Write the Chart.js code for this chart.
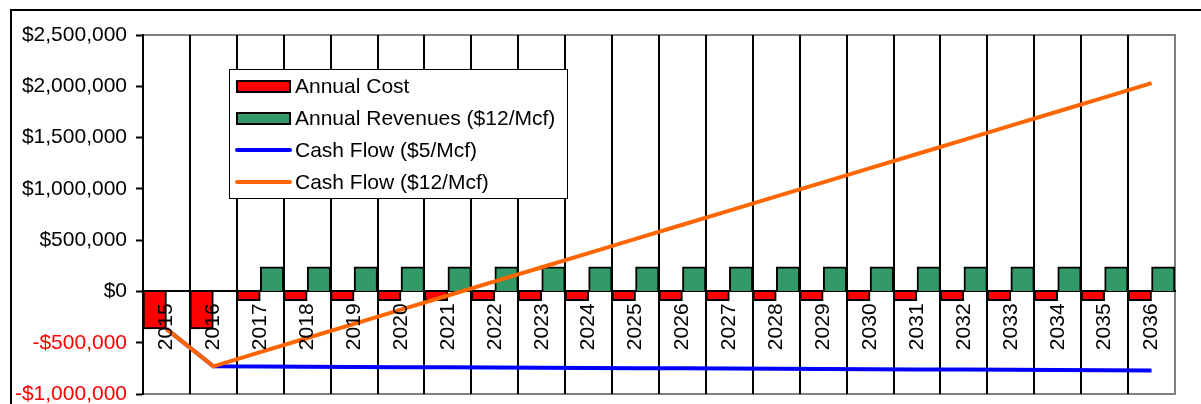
<!DOCTYPE html>
<html>
<head>
<meta charset="utf-8">
<script src="https://cdn.jsdelivr.net/npm/chart.js@4.4.1/dist/chart.umd.min.js"></script>
<style>
    html, body { margin: 0; padding: 0; background: #fff; }
    #wrap { position: relative; width: 1201px; height: 404px; }
</style>
</head>
<body>
<div id="wrap"><canvas id="chart"></canvas></div>
<script>
const years = ['2015', '2016', '2017', '2018', '2019', '2020', '2021', '2022', '2023', '2024', '2025',
    '2026', '2027', '2028', '2029', '2030', '2031', '2032', '2033', '2034', '2035', '2036'];

const annualCost = [-365000, -365000, -90000, -90000, -90000, -90000, -90000, -90000, -90000, -90000, -90000,
    -90000, -90000, -90000, -90000, -90000, -90000, -90000, -90000, -90000, -90000, -90000];

const annualRevenues = [0, 0, 240000, 240000, 240000, 240000, 240000, 240000, 240000, 240000, 240000,
    240000, 240000, 240000, 240000, 240000, 240000, 240000, 240000, 240000, 240000, 240000];

const cashFlow5 = [-365000, -730000, -732000, -734000, -736000, -738000, -740000, -742000, -744000, -746000, -748000,
    -750000, -752000, -754000, -756000, -758000, -760000, -762000, -764000, -766000, -768000, -770000];

const cashFlow12 = [-365000, -730000, -592000, -454000, -316000, -178000, -40000, 98000, 236000, 374000, 512000,
    650000, 788000, 926000, 1064000, 1202000, 1340000, 1478000, 1616000, 1754000, 1892000, 2030000];

const yTicks = { min: -1000000, max: 2500000, step: 500000 };

const FONT = 'Liberation Sans, Arial, sans-serif';

// outer frame and grey plot-area box
const frame = {
    id: 'frame',
    beforeDraw(chart) {
        const { ctx, chartArea: a } = chart;
        ctx.save();
        ctx.lineWidth = 2;
        ctx.strokeStyle = '#000';
        ctx.strokeRect(11, 10, 1300, 500);
        ctx.strokeStyle = '#808080';
        ctx.strokeRect(a.left, a.top, a.right - a.left, a.bottom - a.top);
        ctx.restore();
    },
};

// boxed legend sitting inside the plot
const boxLegend = {
    id: 'boxLegend',
    afterDatasetsDraw(chart) {
        const ctx = chart.ctx;
        const x = 229, y = 69, w = 338, h = 129;
        ctx.save();
        ctx.fillStyle = '#fff';
        ctx.fillRect(x, y, w, h);
        ctx.strokeStyle = '#000';
        ctx.lineWidth = 1;
        ctx.strokeRect(x + 0.5, y + 0.5, w, h);
        ctx.font = '21px ' + FONT;
        ctx.textBaseline = 'middle';
        chart.data.datasets.forEach((ds, i) => {
            const cy = 86 + i * 32;
            if (ds.type === 'line') {
                ctx.strokeStyle = ds.borderColor;
                ctx.lineWidth = 4;
                ctx.lineCap = 'round';
                ctx.beginPath();
                ctx.moveTo(237, cy);
                ctx.lineTo(290, cy);
                ctx.stroke();
            } else {
                ctx.fillStyle = ds.backgroundColor;
                ctx.fillRect(237, cy - 5, 53, 11);
                ctx.strokeStyle = '#000';
                ctx.lineWidth = 2;
                ctx.strokeRect(237, cy - 5, 53, 11);
            }
            ctx.fillStyle = '#000';
            ctx.fillText(ds.label, 295, cy + 1);
        });
        ctx.restore();
    },
};

const money = (v) => (v < 0 ? '-$' : '$') + Math.abs(v).toLocaleString('en-US');

new Chart(document.getElementById('chart').getContext('2d'), {
    type: 'bar',
    data: {
        labels: years,
        datasets: [
            {
                label: 'Annual Cost',
                data: annualCost,
                backgroundColor: '#FF0000',
                borderColor: '#000',
                borderWidth: 2,
                order: 3,
            },
            {
                label: 'Annual Revenues ($12/Mcf)',
                data: annualRevenues,
                backgroundColor: '#339966',
                borderColor: '#000',
                borderWidth: 2,
                order: 3,
            },
            {
                label: 'Cash Flow ($5/Mcf)',
                type: 'line',
                data: cashFlow5,
                borderColor: '#0000FF',
                borderWidth: 4,
                pointRadius: 0,
                tension: 0,
                order: 1,
            },
            {
                label: 'Cash Flow ($12/Mcf)',
                type: 'line',
                data: cashFlow12,
                borderColor: '#FF6600',
                borderWidth: 4,
                pointRadius: 0,
                tension: 0,
                order: 0,
            },
        ],
    },
    options: {
        responsive: true,
        maintainAspectRatio: false,
        animation: false,
        barPercentage: 1,
        categoryPercentage: 1,
        layout: {
            padding: { left: 0, top: 35, right: 26, bottom: 10 },
        },
        plugins: {
            legend: { display: false },
            tooltip: { enabled: false },
        },
        scales: {
            x: {
                position: { y: 0 },
                offset: true,
                grid: {
                    offset: true,
                    drawTicks: false,
                    lineWidth: 2,
                    color: (c) => (c.type === 'tick' ? '#000' : '#808080'),
                },
                border: { color: '#000', width: 2 },
                ticks: {
                    z: 1,
                    autoSkip: false,
                    minRotation: 90,
                    maxRotation: 90,
                    padding: 12,
                    color: '#000',
                    font: { family: FONT, size: 21 },
                },
            },
            y: {
                min: yTicks.min,
                max: yTicks.max,
                afterFit(scale) {
                    scale.width = 143;
                    scale.paddingTop = 0;
                    scale.paddingBottom = 0;
                },
                grid: {
                    drawOnChartArea: false,
                    drawTicks: true,
                    tickLength: 7,
                    tickWidth: 2,
                    tickColor: '#000',
                },
                border: { color: '#000', width: 2 },
                ticks: {
                    stepSize: yTicks.step,
                    padding: 9,
                    color: (c) => (c.tick && c.tick.value < 0 ? '#FF0000' : '#000'),
                    font: { family: FONT, size: 21 },
                    callback: (v) => money(v),
                },
            },
        },
    },
    plugins: [frame, boxLegend],
});
</script>
</body>
</html>
